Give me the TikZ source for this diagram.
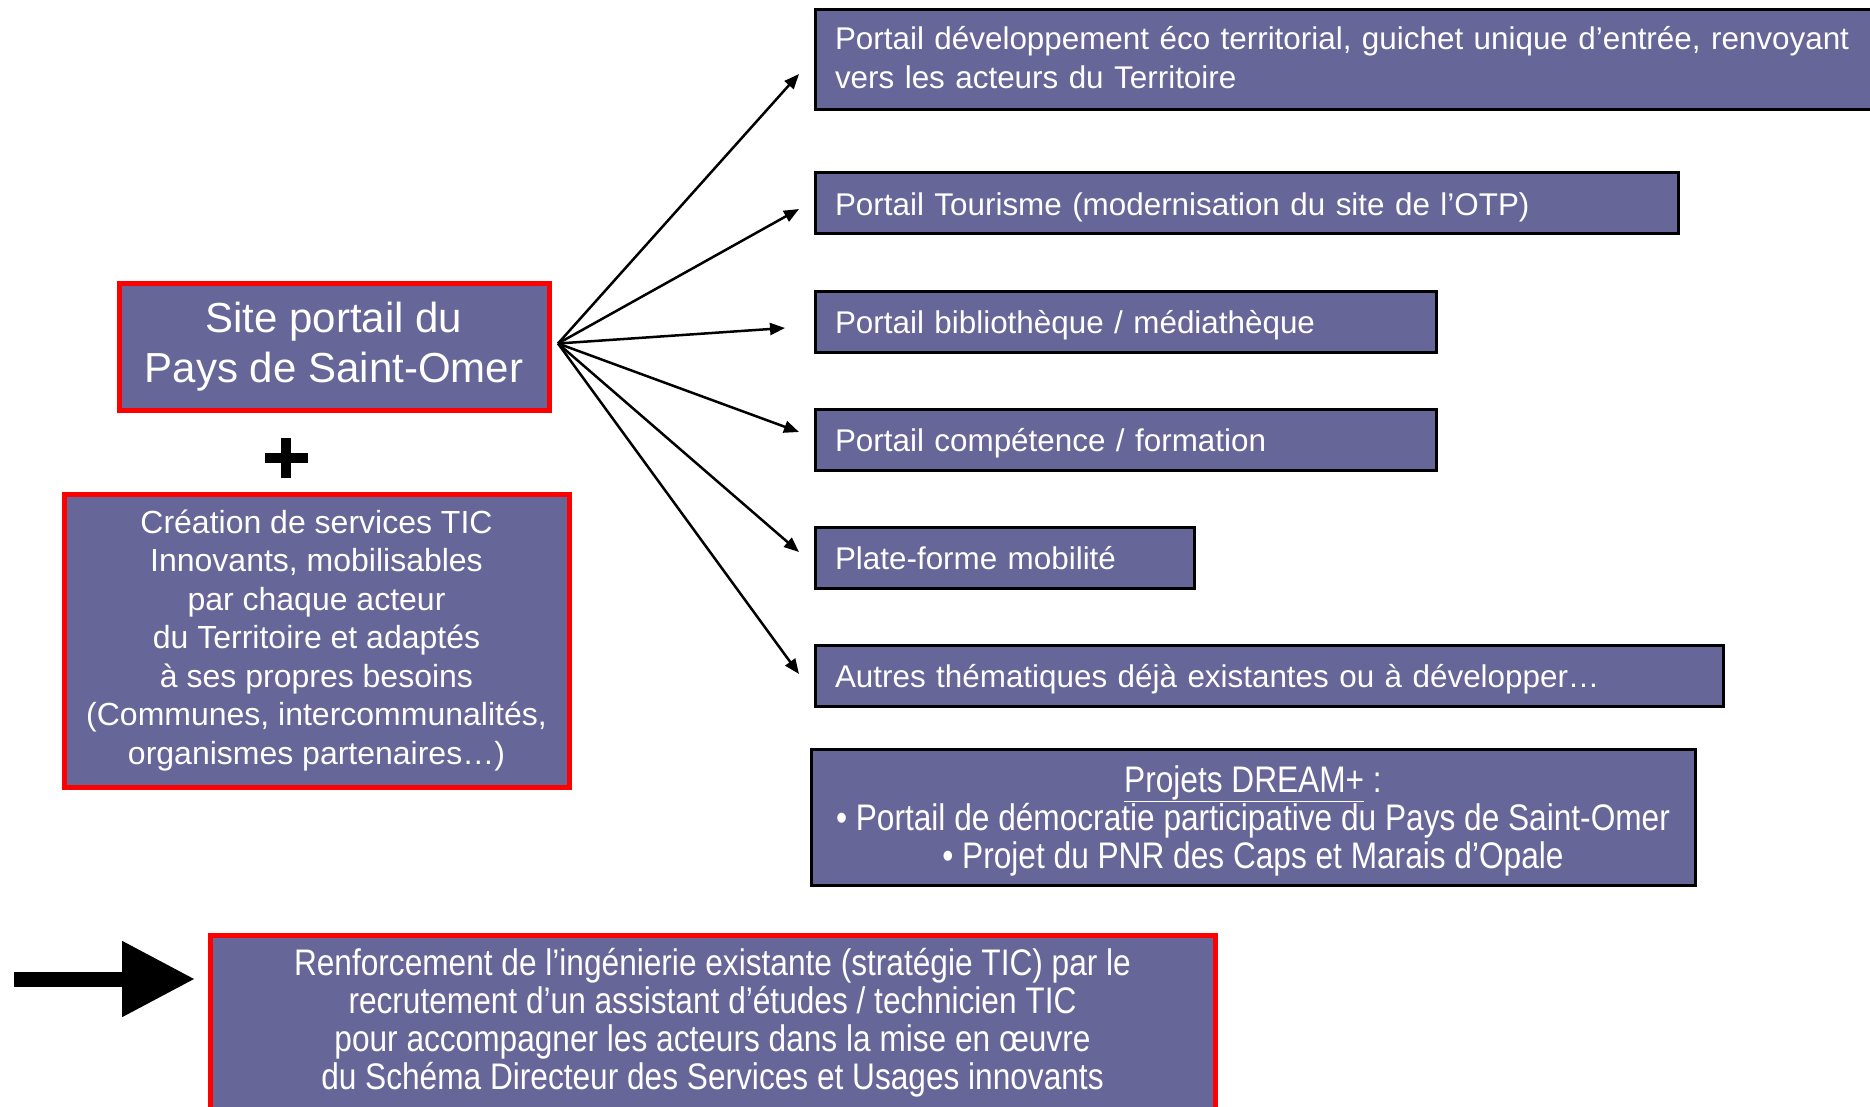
\documentclass[tikz,border=0pt]{standalone}
\usepackage{fontspec}
\setmainfont{Liberation Sans}
\newfontfamily\narrowfont[FakeStretch=0.855]{Liberation Sans}
\usetikzlibrary{arrows.meta}
\definecolor{boxblue}{RGB}{102,102,153}
\definecolor{framered}{RGB}{255,0,0}

\begin{document}
\begin{tikzpicture}[x=1pt, y=-1pt,
    every node/.style={outer sep=0pt, text=white, fill=boxblue},
    portal/.style={draw=black, line width=3pt, anchor=north west,
      inner xsep=20pt, inner ysep=0pt, minimum height=61pt,
      text height=27.6pt, text depth=3.8pt,
      text width=#1, align=left, font=\fontsize{31.4}{39}\selectfont},
    redbox/.style 2 args={draw=framered, line width=5pt, anchor=north west,
      inner xsep=0pt, inner ysep=0pt, minimum width=#1, minimum height=#2,
      align=center},
    fan/.style={line width=2.5pt, -{Triangle[length=15pt,width=12pt]}},
    bigarrow/.style={line width=15pt, -{Triangle[length=73pt,width=72pt]}}]
  \useasboundingbox (0,0) rectangle (1870,1107);

  \node[redbox={430pt}{127pt}, font=\fontsize{42}{50}\selectfont] (site) at (119,283)
    {Site portail du\\Pays de Saint-Omer};
  \node[redbox={505pt}{293pt}, font=\fontsize{32}{38.5}\selectfont] (creation) at (64,494)
    {Création de services TIC\\Innovants, mobilisables\\par chaque acteur\\du Territoire et adaptés\\à ses propres besoins\\(Communes, intercommunalités,\\organismes partenaires\ldots)};
  \draw[line width=10pt] (265,458) -- (308,458) (286,438) -- (286,478);

  \node[portal=1040pt, minimum height=100pt, text height=25.2pt, text depth=45.2pt] (p1) at (815,10)
    {Portail développement éco territorial, guichet unique d’entrée, renvoyant\\vers les acteurs du Territoire};
  \node[portal=823pt] (p2) at (815,173) {Portail Tourisme (modernisation du site de l’OTP)};
  \node[portal=581pt] (p3) at (815,291) {Portail bibliothèque / médiathèque};
  \node[portal=581pt] (p4) at (815,409) {Portail compétence / formation};
  \node[portal=339pt] (p5) at (815,527) {Plate-forme mobilité};
  \node[portal=868pt] (p6) at (815,645) {Autres thématiques déjà existantes ou à développer\ldots};
  \node[draw=black, line width=3pt, anchor=north west, inner sep=0pt,
    minimum width=884pt, minimum height=136pt, align=center,
    text height=106pt, text depth=3.6pt,
    font=\narrowfont\fontsize{37}{38}\selectfont] (dream) at (811,749)
    {\underline{Projets DREAM+} :\\• Portail de démocratie participative du Pays de Saint-Omer\\• Projet du PNR des Caps et Marais d’Opale};

  \coordinate (hub) at ([xshift=9pt,yshift=3pt]site.east);
  \foreach \target/\dx/\dy in {p1/-16/-14, p2/-16/-5.5, p3/-30/-6.5, p4/-16/7.5, p5/-16/5.5, p6/-16/1.5}
    \draw[fan] (hub) -- ([xshift=\dx pt,yshift=\dy pt]\target.west);

  \node[redbox={1005pt}{175pt}, font=\narrowfont\fontsize{37}{38}\selectfont] (renfort) at (210,935)
    {Renforcement de l’ingénierie existante (stratégie TIC) par le\\recrutement d’un assistant d’études / technicien TIC\\pour accompagner les acteurs dans la mise en œuvre\\du Schéma Directeur des Services et Usages innovants};
  \coordinate (start) at (14,979);
  \coordinate (tip) at (195,979);
  \draw[bigarrow] (start) -- (tip);
\end{tikzpicture}
\end{document}
